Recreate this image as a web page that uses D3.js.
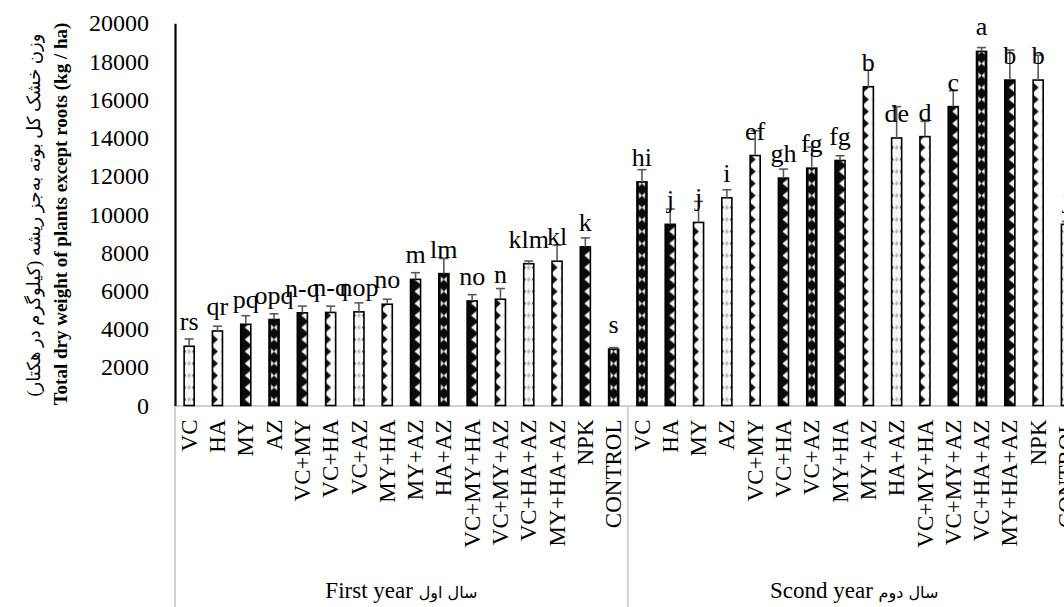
<!DOCTYPE html>
<html>
<head>
<meta charset="utf-8">
<script src="https://cdn.jsdelivr.net/npm/d3@7"></script>
<style>
  html, body { margin: 0; padding: 0; background: #fff; overflow: hidden; }
  svg { display: block; overflow: hidden; }
  text { font-family: "Liberation Serif", "DejaVu Sans", serif; fill: #000; }
</style>
</head>
<body>
<svg id="chart" width="1064" height="607"></svg>
<script>
// Treatments, repeated for each growing season
const categories = ["VC", "HA", "MY", "AZ", "VC+MY", "VC+HA", "VC+AZ", "MY+HA", "MY+AZ", "HA+AZ",
  "VC+MY+HA", "VC+MY+AZ", "VC+HA+AZ", "MY+HA+AZ", "NPK", "CONTROL"];
const yearsEn = ["First year", "Scond year"];
const yearsFa = ["سال اول", "سال دوم"];

// Dry weight (kg/ha), standard error and mean-comparison letters
const firstYearValues = [3100, 3900, 4250, 4500, 4850, 4870, 4900, 5300, 6600, 6900, 5470, 5560, 7420, 7550, 8300, 2950];
const firstYearErrors = [380, 250, 450, 300, 350, 330, 470, 260, 350, 790, 330, 560, 140, 840, 470, 80];
const firstYearLetters = ["rs", "qr", "pq", "opq", "n-q", "n-q", "nop", "no", "m", "lm", "no", "n", "klm", "kl", "k", "s"];

const secondYearValues = [11700, 9480, 9580, 10870, 13080, 11900, 12420, 12820, 16680, 14000, 14070, 15640, 18530, 17030, 17030, 9480];
const secondYearErrors = [640, 800, 1100, 420, 1300, 470, 1100, 250, 870, 1640, 800, 835, 200, 1570, 1300, 150];
const secondYearLetters = ["hi", "j", "j", "i", "ef", "gh", "fg", "fg", "b", "de", "d", "c", "a", "b", "b", "j"];

const yTicks = [0, 2000, 4000, 6000, 8000, 10000, 12000, 14000, 16000, 18000, 20000];

const yTitleFa = "وزن خشک کل بوته به‌جز ریشه (کیلوگرم در هکتار)";
const yTitleEn = "Total dry weight of plants except roots (kg / ha)";

const seriesValues = [firstYearValues, secondYearValues];
const seriesErrors = [firstYearErrors, secondYearErrors];
const seriesLetters = [firstYearLetters, secondYearLetters];

const data = yearsEn.flatMap((yr, yi) => categories.map((c, ci) => ({
  key: yi + "-" + ci, year: yr, yi, ci, cat: c,
  value: seriesValues[yi][ci], err: seriesErrors[yi][ci], letter: seriesLetters[yi][ci]
})));

const svg = d3.select("#chart");

const plotLeft = 175, step = 28.3, plotTop = 23.3, plotBase = 405.5;
const plotRight = plotLeft + step * data.length;

const x = d3.scaleBand().domain(data.map(d => d.key)).range([plotLeft, plotRight])
  .paddingInner(0.645).paddingOuter(0.3225);
const yearX = d3.scaleBand().domain(yearsEn).range([plotLeft, plotRight]);
const y = d3.scaleLinear().domain([0, 20000]).range([plotBase, plotTop]);

// Fill patterns, one per bar so that each starts at the bar's left edge
const kinds = ["dot", "light", "dark", "bow", "dark", "light"];
const patternOf = d => kinds[(d.ci + (d.yi === 0 ? 0 : 3)) % kinds.length];
const defs = svg.append("defs");
const bw = x.bandwidth(), ph = 12;
data.forEach(d => {
  const p = defs.append("pattern")
    .attr("id", "pat-" + d.key)
    .attr("patternUnits", "userSpaceOnUse")
    .attr("x", x(d.key)).attr("y", plotBase)
    .attr("width", bw).attr("height", ph);
  const k = patternOf(d);
  const cx = bw / 2, cy = ph / 2;
  if (k === "dot") {
    p.append("rect").attr("width", bw).attr("height", ph).attr("fill", "#f7f7f7");
    p.append("path").attr("d", `M${cx},${cy - 2.5}L${cx + 2},${cy}L${cx},${cy + 2.5}L${cx - 2},${cy}Z`).attr("fill", "#b8b8b8");
    p.append("path").attr("d", `M0,${cy - 2}L2,${cy}L0,${cy + 2}Z`).attr("fill", "#222");
    p.append("path").attr("d", `M${bw},${cy - 2}L${bw - 2},${cy}L${bw},${cy + 2}Z`).attr("fill", "#222");
  } else if (k === "light") {
    p.append("rect").attr("width", bw).attr("height", ph).attr("fill", "#fafafa");
    p.append("path").attr("d", `M0,1L${bw * 0.55},${cy}L0,${ph - 1}Z`).attr("fill", "#111");
    p.append("path").attr("d", `M${bw - 1.5},${cy - 2}L${bw},${cy}L${bw - 1.5},${cy + 2}Z`).attr("fill", "#bbb");
  } else if (k === "dark") {
    p.append("rect").attr("width", bw).attr("height", ph).attr("fill", "#0a0a0a");
    p.append("path").attr("d", `M${bw},1L${bw * 0.4},${cy}L${bw},${ph - 1}Z`).attr("fill", "#f4f4f4");
  } else {
    p.append("rect").attr("width", bw).attr("height", ph).attr("fill", "#0a0a0a");
    p.append("path").attr("d", `M${cx - 3},${cy - 3}L${cx},${cy}L${cx - 3},${cy + 3}Z`).attr("fill", "#f4f4f4");
    p.append("path").attr("d", `M${cx + 3},${cy - 3}L${cx},${cy}L${cx + 3},${cy + 3}Z`).attr("fill", "#f4f4f4");
  }
});

// Category axis with the season separators
const xAxis = svg.append("g")
  .attr("transform", `translate(0,${plotBase})`)
  .call(d3.axisBottom(x).tickSize(0).tickSizeOuter(0).tickFormat(k => data.find(d => d.key === k).cat));
xAxis.select(".domain").attr("stroke", "#d0d0d0").attr("stroke-width", 2);
xAxis.selectAll(".tick text")
  .attr("font-size", 23)
  .attr("font-family", "Liberation Serif")
  .attr("text-anchor", "end")
  .attr("transform", "rotate(-90)")
  .attr("x", -14).attr("y", 0).attr("dy", "0.33em");

const sepX = yearsEn.map(yr => yearX(yr)).concat([plotRight]);
svg.append("g").selectAll("line").data(sepX).join("line")
  .attr("x1", d => d).attr("x2", d => d)
  .attr("y1", plotBase).attr("y2", 607)
  .attr("stroke", "#d0d0d0").attr("stroke-width", 2);

const yearLabels = svg.append("g").selectAll("text").data(yearsEn).join("text")
  .attr("x", d => yearX(d) + yearX.bandwidth() / 2)
  .attr("y", 598)
  .attr("text-anchor", "middle")
  .attr("font-size", 23);
yearLabels.append("tspan").attr("font-family", "Liberation Serif").text(d => d + " ");
yearLabels.append("tspan").attr("font-family", "DejaVu Sans").attr("font-size", 16)
  .text((d, i) => yearsFa[i]);

// Value axis
const yAxis = svg.append("g")
  .attr("transform", `translate(${plotLeft},0)`)
  .call(d3.axisLeft(y).tickValues(yTicks).tickSize(0).tickSizeOuter(0).tickPadding(26).tickFormat(d3.format("d")));
yAxis.select(".domain").attr("stroke", "#000").attr("stroke-width", 2.2);
yAxis.selectAll(".tick text").attr("font-size", 24).attr("font-family", "Liberation Serif");

// Bars
svg.append("g").selectAll("rect").data(data).join("rect")
  .attr("x", d => x(d.key))
  .attr("y", d => y(d.value))
  .attr("width", bw)
  .attr("height", d => y(0) - y(d.value))
  .attr("fill", d => `url(#pat-${d.key})`)
  .attr("stroke", "#000").attr("stroke-width", 1.6);

// Error bars
const eb = svg.append("g").attr("stroke", "#595959").attr("stroke-width", 1.6);
eb.selectAll("line.v").data(data).join("line").attr("class", "v")
  .attr("x1", d => x(d.key) + bw / 2).attr("x2", d => x(d.key) + bw / 2)
  .attr("y1", d => y(d.value)).attr("y2", d => y(d.value + d.err));
eb.selectAll("line.c").data(data).join("line").attr("class", "c")
  .attr("x1", d => x(d.key) + bw / 2 - 4.5).attr("x2", d => x(d.key) + bw / 2 + 4.5)
  .attr("y1", d => y(d.value + d.err)).attr("y2", d => y(d.value + d.err));

// Mean-comparison letters
svg.append("g").selectAll("text").data(data).join("text")
  .attr("x", d => x(d.key) + bw / 2)
  .attr("y", d => y(d.value) - 16)
  .attr("text-anchor", "middle")
  .attr("font-size", 26)
  .text(d => d.letter);

// Axis title, two lines
svg.append("text")
  .attr("transform", `translate(67,214) rotate(-90)`)
  .attr("text-anchor", "middle")
  .attr("font-size", 19)
  .attr("font-weight", "bold")
  .text(yTitleEn);
svg.append("text")
  .attr("transform", `translate(40,215) rotate(-90)`)
  .attr("text-anchor", "middle")
  .attr("direction", "rtl")
  .attr("font-family", "DejaVu Sans")
  .attr("font-size", 18)
  .text(yTitleFa);
</script>
</body>
</html>
